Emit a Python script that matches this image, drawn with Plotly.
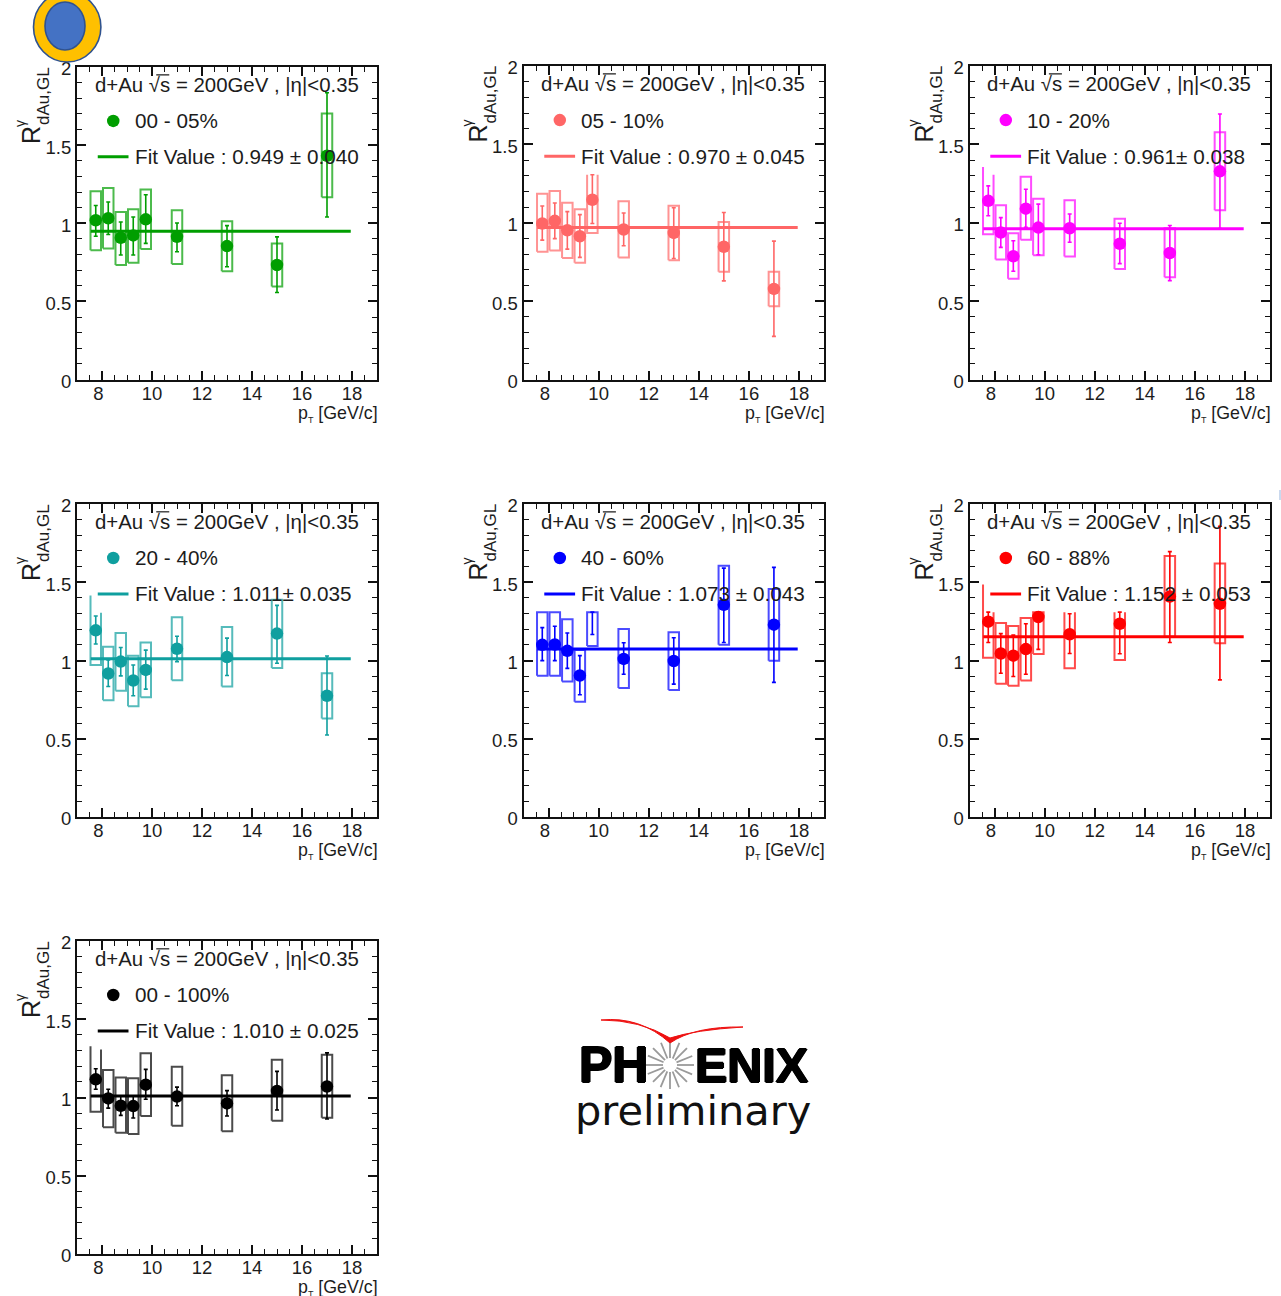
import math
import plotly.graph_objects as go

W, H = 1281, 1296

pt = [7.75, 8.25, 8.75, 9.25, 9.75, 11, 13, 15, 17]
x_ticks = [8, 10, 12, 14, 16, 18]
x_tick_labels = ["8\u2009\u2009", "10", "12", "14", "16", "18"]
y_ticks = [0, 0.5, 1, 1.5, 2]
y_tick_labels = ["0", "0.5", "1", "1.5", "2"]

names = ["00 - 05%", "05 - 10%", "10 - 20%", "20 - 40%", "40 - 60%", "60 - 88%", "00 - 100%"]
fit_values = [0.949, 0.970, 0.961, 1.011, 1.073, 1.152, 1.010]
fit_labels = ["Fit Value : 0.949 ± 0.040", "Fit Value : 0.970 ± 0.045", "Fit Value : 0.961± 0.038",
              "Fit Value : 1.011± 0.035", "Fit Value : 1.073 ± 0.043", "Fit Value : 1.152 ± 0.053",
              "Fit Value : 1.010 ± 0.025"]
colors = ["#009e00", "#ff6666", "#ff00ff", "#0f9f9f", "#0000ff", "#ff0000", "#000000"]

y_a = [1.019, 1.032, 0.907, 0.922, 1.025, 0.913, 0.854, 0.733, 1.432]
slo_a = [0.917, 0.928, 0.797, 0.797, 0.871, 0.818, 0.722, 0.557, 1.04]
shi_a = [1.114, 1.136, 1.008, 1.04, 1.182, 1.002, 0.985, 0.913, 1.835]
blo_a = [0.828, 0.839, 0.733, 0.748, 0.835, 0.739, 0.693, 0.595, 1.167]
bhi_a = [1.205, 1.225, 1.072, 1.089, 1.216, 1.083, 1.013, 0.871, 1.703]

y_b = [0.995, 1.012, 0.952, 0.914, 1.147, 0.957, 0.935, 0.847, 0.578]
slo_b = [0.889, 0.899, 0.832, 0.779, 0.995, 0.853, 0.772, 0.629, 0.275]
shi_b = [1.107, 1.126, 1.071, 1.052, 1.306, 1.062, 1.096, 1.065, 0.883]
blo_b = [0.815, 0.823, 0.775, 0.745, 0.935, 0.779, 0.76, 0.688, 0.468]
bhi_b = [1.185, 1.202, 1.128, 1.086, 1.306, 1.137, 1.109, 1.005, 0.688]

y_c = [1.14, 0.938, 0.786, 1.09, 0.969, 0.965, 0.866, 0.807, 1.328]
slo_c = [1.045, 0.843, 0.691, 0.971, 0.796, 0.876, 0.739, 0.631, 0.963]
shi_c = [1.235, 1.033, 0.885, 1.214, 1.119, 1.056, 0.997, 0.982, 1.694]
blo_c = [0.927, 0.765, 0.642, 0.891, 0.792, 0.784, 0.705, 0.653, 1.079]
bhi_c = [1.307, 1.111, 0.933, 1.293, 1.153, 1.143, 1.026, 0.965, 1.578]

y_d = [1.193, 0.917, 0.993, 0.872, 0.94, 1.075, 1.022, 1.172, 0.775]
slo_d = [1.105, 0.834, 0.902, 0.775, 0.817, 0.993, 0.904, 0.982, 0.524]
shi_d = [1.284, 1.003, 1.083, 0.971, 1.066, 1.155, 1.143, 1.352, 1.029]
blo_d = [0.971, 0.746, 0.807, 0.707, 0.765, 0.874, 0.834, 0.952, 0.629]
bhi_d = [1.305, 1.088, 1.176, 1.031, 1.115, 1.276, 1.214, 1.388, 0.919]

y_e = [1.10, 1.102, 1.062, 0.904, None, 1.01, 0.997, 1.356, 1.229]
slo_e = [0.999, 0.999, 0.95, 0.781, 1.166, 0.912, 0.849, 1.115, 0.86]
shi_e = [1.21, 1.219, 1.176, 1.031, 1.309, 1.113, 1.145, 1.59, 1.595]
blo_e = [0.902, 0.902, 0.866, 0.737, 1.092, 0.824, 0.811, 1.10, 0.999]
bhi_e = [1.309, 1.309, 1.263, 1.067, 1.309, 1.202, 1.181, 1.605, 1.457]

y_f = [1.248, 1.045, 1.031, 1.073, 1.278, 1.168, 1.235, 1.409, 1.362]
slo_f = [1.115, 0.919, 0.898, 0.912, 1.071, 1.045, 1.043, 1.115, 0.876]
shi_f = [1.309, 1.172, 1.162, 1.235, 1.309, 1.299, 1.309, 1.696, 1.858]
blo_f = [1.018, 0.851, 0.838, 0.872, 1.041, 0.95, 1.003, 1.151, 1.111]
bhi_f = [1.309, 1.24, 1.221, 1.271, 1.309, 1.309, 1.309, 1.668, 1.62]

y_g = [1.116, 0.994, 0.947, 0.945, 1.082, 1.006, 0.962, 1.042, 1.07]
slo_g = [1.053, 0.932, 0.886, 0.869, 0.989, 0.947, 0.882, 0.92, 0.863]
shi_g = [1.184, 1.053, 1.011, 1.011, 1.18, 1.066, 1.044, 1.167, 1.285]
blo_g = [0.909, 0.81, 0.774, 0.767, 0.882, 0.82, 0.784, 0.852, 0.871]
bhi_g = [1.307, 1.175, 1.127, 1.123, 1.283, 1.197, 1.142, 1.241, 1.273]

series_y = [y_a, y_b, y_c, y_d, y_e, y_f, y_g]
series_slo = [slo_a, slo_b, slo_c, slo_d, slo_e, slo_f, slo_g]
series_shi = [shi_a, shi_b, shi_c, shi_d, shi_e, shi_f, shi_g]
series_blo = [blo_a, blo_b, blo_c, blo_d, blo_e, blo_f, blo_g]
series_bhi = [bhi_a, bhi_b, bhi_c, bhi_d, bhi_e, bhi_f, bhi_g]

# boxes whose top runs off the drawn range: panel, point -> (left side top, right side top)
open_boxes = {
    (1, 4): (1.306, 1.306),
    (2, 0): (1.356, 1.307),
    (3, 0): (1.415, 1.305),
    (5, 0): (1.485, 1.309),
    (5, 5): (1.309, 1.309),
    (5, 6): (1.309, 1.309),
    (6, 0): (1.328, 1.307),
}

frames = [(76, 378, 66, 380.5), (522.5, 825, 65, 380.5), (968.5, 1271, 65, 380.5),
          (76, 378, 503, 818), (522.5, 825, 503, 818), (968.5, 1271, 503, 818),
          (76, 378, 940, 1255)]

BOX_HW = 0.21
FONT = "Liberation Sans"
INK = "#1c1c1c"

fig = go.Figure()
layout = dict(
    width=W, height=H, margin=dict(l=0, r=0, t=0, b=0, pad=0, autoexpand=False), autosize=False,
    paper_bgcolor="white", plot_bgcolor="white", showlegend=False,
    font=dict(family=FONT, size=18, color=INK),
)
annotations, shapes = [], []


def note(text, x, y, xref, yref, size, anchor="left", angle=0, family=FONT, color=INK, yanchor="middle", shadow=None):
    f = dict(family=family, size=size, color=color)
    if shadow:
        f["shadow"] = shadow
    annotations.append(dict(text=text, x=x, y=y, xref=xref, yref=yref, showarrow=False,
                            xanchor=anchor, yanchor=yanchor, align=anchor,
                            textangle=angle, borderpad=0, borderwidth=0, font=f))


for i, (l, r, t, b) in enumerate(frames):
    sfx = "" if i == 0 else str(i + 1)
    xa, ya = "x" + sfx, "y" + sfx
    axis_common = dict(showgrid=False, zeroline=False, showline=True, linewidth=2, linecolor="#111111",
                       mirror="allticks", ticks="inside", tickwidth=1.6, tickcolor="#111111", ticklen=9,
                       tickfont=dict(family=FONT, size=18.5, color=INK))
    layout["xaxis" + sfx] = dict(domain=[(l + 1) / W, (r - 1) / W], range=[7, 19], anchor=ya,
                                 tickmode="array", tickvals=x_ticks, ticktext=x_tick_labels,
                                 ticklabelstandoff=-4,
                                 minor=dict(ticks="inside", ticklen=5, tickwidth=1.4, tickcolor="#111111",
                                            tick0=7, dtick=0.5),
                                 **axis_common)
    layout["yaxis" + sfx] = dict(domain=[1 - (b - 1) / H, 1 - (t + 1) / H], range=[0, 2], anchor=xa,
                                 tickmode="array", tickvals=y_ticks, ticktext=y_tick_labels,
                                 ticklabelshift=2,
                                 minor=dict(ticks="inside", ticklen=5, tickwidth=1.4, tickcolor="#111111",
                                            tick0=0, dtick=0.1),
                                 **axis_common)
    c = colors[i]
    # fit line
    fig.add_trace(go.Scatter(x=[7.55, 17.95], y=[fit_values[i]] * 2, mode="lines", xaxis=xa, yaxis=ya,
                             line=dict(color=c, width=3), hoverinfo="skip"))
    # systematic boxes
    bx, by = [], []
    for k, px_ in enumerate(pt):
        x0, x1 = px_ - BOX_HW, px_ + BOX_HW
        lo, hi = series_blo[i][k], series_bhi[i][k]
        if (i, k) in open_boxes:
            hl, hr = open_boxes[(i, k)]
            bx += [x0, x0, x1, x1, None]
            by += [hl, lo, lo, hr, None]
        else:
            bx += [x0, x0, x1, x1, x0, None]
            by += [lo, hi, hi, lo, lo, None]
    fig.add_trace(go.Scatter(x=bx, y=by, mode="lines", xaxis=xa, yaxis=ya, opacity=0.7,
                             line=dict(color=c, width=2), connectgaps=False, hoverinfo="skip"))
    # statistical bars
    fig.add_trace(go.Scatter(x=pt, y=series_slo[i], mode="markers", xaxis=xa, yaxis=ya,
                             marker=dict(size=1, color=c, opacity=0),
                             error_y=dict(type="data", symmetric=False,
                                          array=[h - s for h, s in zip(series_shi[i], series_slo[i])],
                                          arrayminus=[0] * len(pt), color=c, thickness=1.6, width=2),
                             hoverinfo="skip"))
    # points
    fig.add_trace(go.Scatter(x=pt, y=series_y[i], mode="markers", xaxis=xa, yaxis=ya,
                             marker=dict(size=12.5, color=c, line=dict(width=0)), hoverinfo="skip"))
    # legend key
    fig.add_trace(go.Scatter(x=[8.45], y=[1.655], mode="markers", xaxis=xa, yaxis=ya,
                             marker=dict(size=12.5, color=c, line=dict(width=0)), hoverinfo="skip"))
    fig.add_trace(go.Scatter(x=[7.83, 9.06], y=[1.425, 1.425], mode="lines", xaxis=xa, yaxis=ya,
                             line=dict(color=c, width=3), hoverinfo="skip"))

    note("d+Au √s = 200GeV , |η|<0.35", 7.71, 1.885, xa, ya, 20.4)
    shapes.append(dict(type="line", xref=xa, yref=ya, x0=10.17, x1=10.69, y0=1.95, y1=1.95,
                       line=dict(color=INK, width=1.2)))
    note(names[i], 9.3, 1.655, xa, ya, 20.7)
    note(fit_labels[i], 9.3, 1.425, xa, ya, 20.7)
    note('p<sub><span style="font-size:9px">T</span></sub> [GeV/c]', r / W, 1 - (b + 33) / H, "paper", "paper",
         17.8, anchor="right")

    # y title (three pieces so that the super- and subscript stack)
    note("R", (l - 45) / W, 1 - (t + 69) / H, "paper", "paper", 25, anchor="center", angle=-90)
    note("γ", (l - 56) / W, 1 - (t + 58) / H, "paper", "paper", 14, anchor="center", angle=-90)
    note("dAu,GL", (l - 33) / W, 1 - (t + 30) / H, "paper", "paper", 17, anchor="center", angle=-90)


def px(x, y):
    return f"{x / W:.5f} {1 - y / H:.5f}"


# top-left emblem
def ellipse(cx, cy, rx, ry, fill, line):
    shapes.append(dict(type="circle", xref="paper", yref="paper", x0=(cx - rx) / W, x1=(cx + rx) / W,
                       y0=1 - (cy + ry) / H, y1=1 - (cy - ry) / H, fillcolor=fill,
                       line=dict(color=line, width=1.6)))


ellipse(67.2, 27, 33.7, 35, "#FFC000", "#2F528F")
ellipse(65, 26, 20, 24, "#4472C4", "#2F528F")

# faint sliver of a neighbouring element at the right edge
shapes.append(dict(type="line", xref="paper", yref="paper", x0=1280 / W, x1=1280 / W,
                   y0=1 - 490 / H, y1=1 - 500 / H, line=dict(color="#b8cce8", width=1.5)))

# PHENIX logo
LOGO_WEIGHT = "1px 0 0 #000, -1px 0 0 #000, 0 1px 0 #000, 0 -1px 0 #000"
note("<b>PH</b>", 579 / W, 1 - 1065 / H, "paper", "paper", 50, shadow=LOGO_WEIGHT, color="#000000")
note("<b>ENIX</b>", 695 / W, 1 - 1065 / H, "paper", "paper", 48.5, shadow=LOGO_WEIGHT, color="#000000")
note("preliminary", 575 / W, 1 - 1110 / H, "paper", "paper", 41.5, family="DejaVu Sans", color="#111111")
ray_angles = [0, 23, 45, 68, 90, 113, 135, 158, 180, 203, 225, 248, 270, 293, 315, 338]
for a in ray_angles:
    ca, sa = math.cos(math.radians(a)), math.sin(math.radians(a))
    shapes.append(dict(type="line", xref="paper", yref="paper",
                       x0=(670 + 7 * ca) / W, x1=(670 + 24 * ca) / W,
                       y0=1 - (1065 + 7 * sa) / H, y1=1 - (1065 + 24 * sa) / H,
                       line=dict(color="#9a9a9a", width=1.8)))
swoosh = ("M " + px(601, 1020) + " Q " + px(640, 1016) + " " + px(670, 1043) +
          " Q " + px(695, 1026) + " " + px(743, 1027) + " Q " + px(695, 1030) + " " + px(670, 1038) +
          " Q " + px(640, 1020) + " " + px(601, 1020) + " Z")
shapes.append(dict(type="path", xref="paper", yref="paper", path=swoosh, fillcolor="#ee1111",
                   line=dict(color="#ee1111", width=1)))

layout["annotations"] = annotations
layout["shapes"] = shapes
fig.update_layout(**layout)
fig.write_html("out.html", config={"displayModeBar": False},
               post_script="document.body.style.margin='0';document.body.style.overflow='hidden';")
